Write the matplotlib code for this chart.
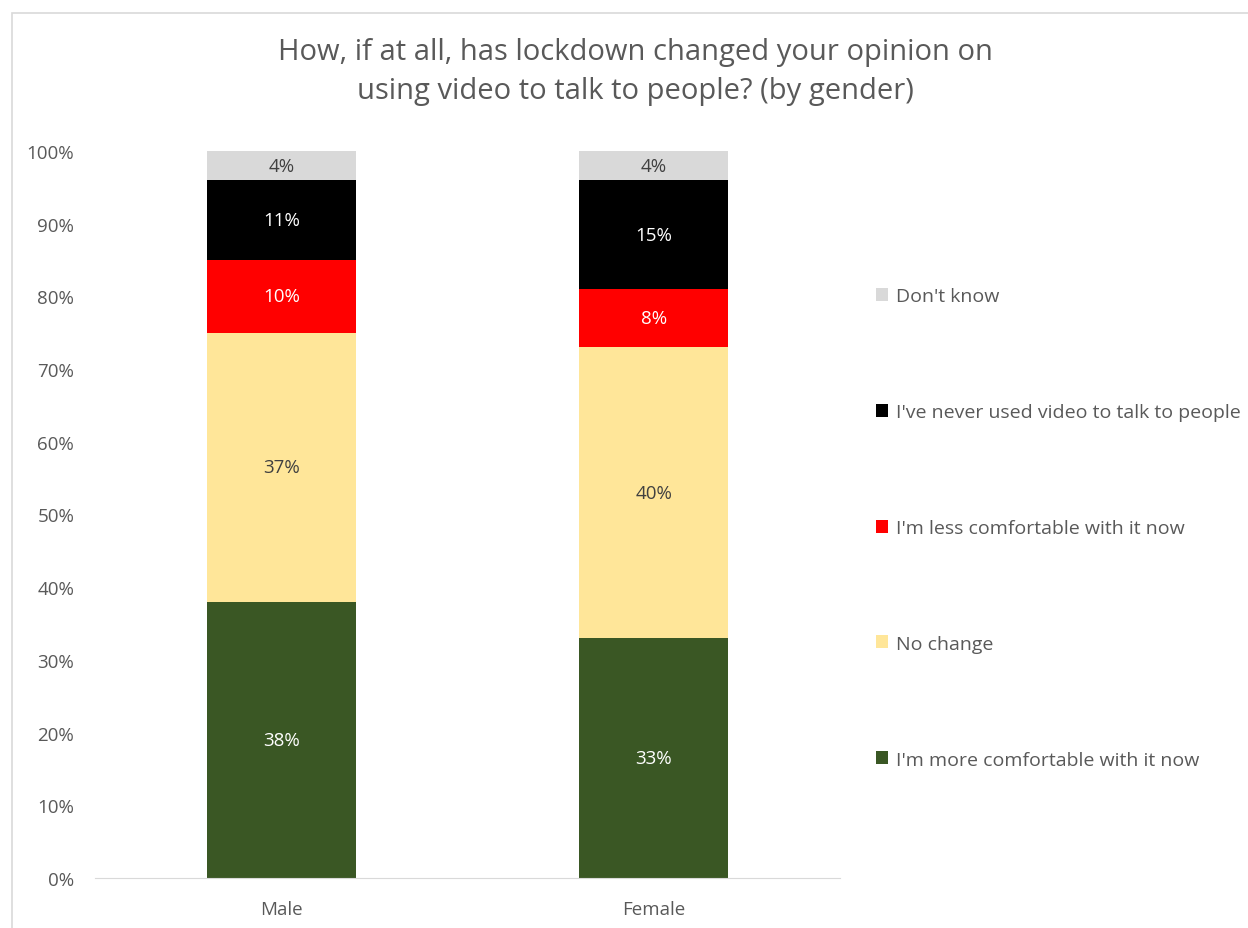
import numpy as np
import matplotlib
matplotlib.use('Agg')
import matplotlib.pyplot as plt
from matplotlib.patches import Rectangle, Patch

plt.rcParams['font.family'] = ['Open Sans', 'DejaVu Sans']

# survey answers per gender, stacked bottom to top
genders = ['Male', 'Female']
more_comfortable = [38, 33]
no_change = [37, 40]
less_comfortable = [10, 8]
never_used = [11, 15]
dont_know = [4, 4]

series = [
    ("I'm more comfortable with it now", more_comfortable, '#3A5724', 'white'),
    ('No change', no_change, '#FFE699', '#404040'),
    ("I'm less comfortable with it now", less_comfortable, '#FF0000', 'white'),
    ("I've never used video to talk to people", never_used, '#000000', 'white'),
    ("Don't know", dont_know, '#D9D9D9', '#404040'),
]

W, H = 1248, 929
fig = plt.figure(figsize=(W / 100, H / 100), dpi=100)

# light chart-area border (runs off the right and bottom edges)
fig.patches.append(Rectangle((12 / W, -0.2), 1.2, 1.2 - 14 / H, transform=fig.transFigure,
                             fill=False, edgecolor='#D9D9D9', linewidth=1.2))

ax = fig.add_axes([95 / W, 50 / H, (840 - 95) / W, (879 - 152) / H])

x = np.arange(len(genders))
bottom = np.zeros(len(genders))
handles = []
for label, vals, color, txtcolor in series:
    vals = np.array(vals, dtype=float)
    ax.bar(x, vals, 0.4, bottom=bottom, color=color, label=label)
    for xi, v, b in zip(x, vals, bottom):
        ax.text(xi, b + v / 2, f'{v:.0f}%', ha='center', va='center',
                color=txtcolor, fontsize=13.5)
    bottom += vals
    handles.append(Patch(facecolor=color, label=label))

ax.set_xlim(-0.5, 1.5)
ax.set_ylim(0, 100)
ax.set_yticks(np.arange(0, 101, 10))
ax.set_yticklabels([f'{t}%' for t in range(0, 101, 10)])
ax.set_xticks(x)
ax.set_xticklabels(genders)
ax.tick_params(length=0, labelsize=13.5, labelcolor='#595959')
ax.tick_params(axis='y', pad=15)
ax.tick_params(axis='x', pad=16)
for side in ['top', 'right', 'left']:
    ax.spines[side].set_visible(False)
ax.spines['bottom'].set_color('#D9D9D9')

fig.text(635 / W, 1 - 72 / H,
         'How, if at all, has lockdown changed your opinion on\nusing video to talk to people? (by gender)',
         ha='center', va='center', fontsize=21, color='#595959', linespacing=1.47)

leg = fig.legend(handles=handles[::-1], loc='center left',
                 bbox_to_anchor=(868 / W, 1 - 529 / H), frameon=False,
                 fontsize=14, labelspacing=5.03, handlelength=0.65, handleheight=0.65,
                 handletextpad=0.4, borderaxespad=0)
for t in leg.get_texts():
    t.set_color('#595959')

fig.savefig('out.png', dpi=100)
